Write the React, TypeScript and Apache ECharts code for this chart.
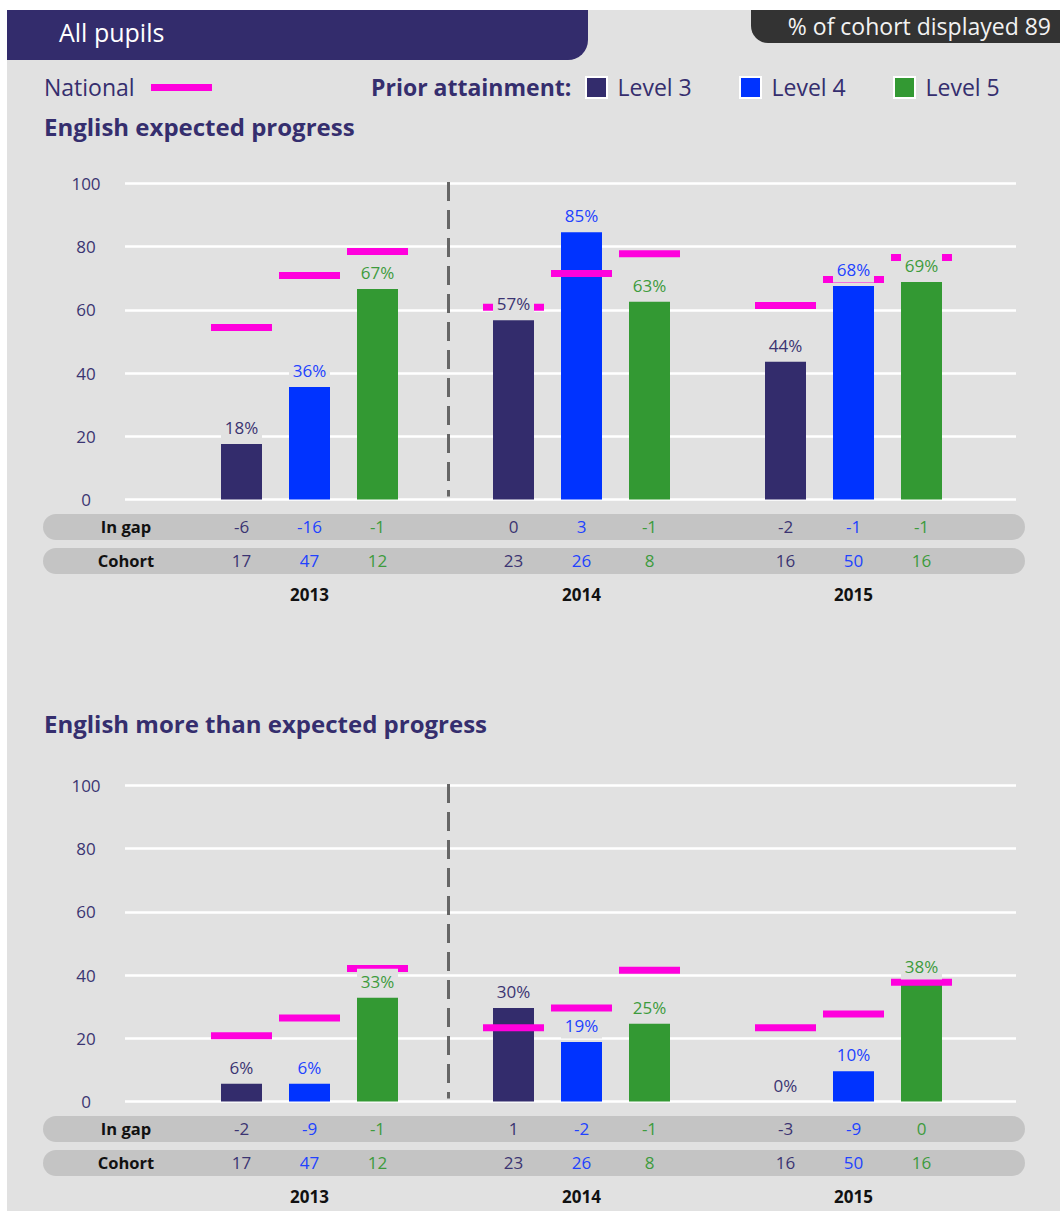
import React, { useEffect, useRef } from "react";
import * as echarts from "echarts";

// ---------- data ----------
const years = ["2013", "2014", "2015"];
const levels = ["Level 3", "Level 4", "Level 5"];

// English expected progress (% of pupils)
const epL3 = [17.6, 56.7, 43.6];
const epL4 = [35.6, 84.6, 67.6];
const epL5 = [66.6, 62.6, 68.8];
const epNatL3 = [54.4, 60.8, 61.4];
const epNatL4 = [70.9, 71.5, 69.6];
const epNatL5 = [78.5, 77.8, 76.6];
const epGapL3 = [-6, 0, -2];
const epGapL4 = [-16, 3, -1];
const epGapL5 = [-1, -1, -1];

// English more than expected progress (% of pupils)
const mepL3 = [5.6, 29.6, 0];
const mepL4 = [5.6, 18.8, 9.6];
const mepL5 = [32.8, 24.6, 37.5];
const mepNatL3 = [20.8, 23.3, 23.3];
const mepNatL4 = [26.4, 29.6, 27.7];
const mepNatL5 = [42.1, 41.5, 37.7];
const mepGapL3 = [-2, 1, -3];
const mepGapL4 = [-9, -2, -9];
const mepGapL5 = [-1, -1, 0];

// cohort sizes (same for both panels)
const cohortL3 = [17, 23, 16];
const cohortL4 = [47, 26, 50];
const cohortL5 = [12, 8, 16];

const yMin = 0;
const yMax = 100;
const yInterval = 20;

// ---------- styling ----------
const FONT = '"Open Sans", "Noto Sans", sans-serif';
const PANEL = "#e1e1e1";
const PILL = "#c4c4c4";
const PURPLE = "#332c6c";
const TEXT_PURPLE = "#352e6e";
const LEVEL_COLORS = ["#332c6c", "#0033ff", "#339933"];
const LABEL_COLORS = ["#3b3472", "#2142ff", "#3d9b3d"];
const MAGENTA = "#ff00dd";

const BAR_W = 41;
const BAR_GAP = 27;
const MARK_W = 61;
const MARK_H = 7;
const LABEL_OFFSET = 16;
const PLOT_LEFT = 125;
const PLOT_W = 891;
const BAND_LEFT = 173.5;
const BAND_W = 816;
const PLOT_H = 316;
const TEXT_DY = -1.5;

const panels = [
  {
    title: "English expected progress",
    titleY: 128,
    top: 183.5,
    bars: [epL3, epL4, epL5],
    nat: [epNatL3, epNatL4, epNatL5],
    gap: [epGapL3, epGapL4, epGapL5],
    cohort: [cohortL3, cohortL4, cohortL5],
  },
  {
    title: "English more than expected progress",
    titleY: 725,
    top: 785.5,
    bars: [mepL3, mepL4, mepL5],
    nat: [mepNatL3, mepNatL4, mepNatL5],
    gap: [mepGapL3, mepGapL4, mepGapL5],
    cohort: [cohortL3, cohortL4, cohortL5],
  },
];

function txt(
  text: string,
  x: number,
  y: number,
  font: string,
  fill: string,
  align: string = "left"
) {
  return {
    type: "text",
    x,
    y: y + TEXT_DY,
    z: 10,
    style: {
      text,
      font,
      fill,
      align,
      textAlign: align,
      verticalAlign: "middle",
      textVerticalAlign: "middle",
    },
  };
}

function buildOption() {
  const grid: any[] = [];
  const xAxis: any[] = [];
  const yAxis: any[] = [];
  const series: any[] = [];
  const graphic: any[] = [];

  // header
  graphic.push({
    type: "rect",
    z: 1,
    shape: { x: 7, y: 10, width: 581, height: 50, r: [0, 0, 20, 0] },
    style: { fill: PURPLE },
  });
  graphic.push(txt("All pupils", 59, 33.5, `25px ${FONT}`, "#ffffff"));
  graphic.push({
    type: "rect",
    z: 1,
    shape: { x: 751, y: 10, width: 309, height: 33, r: [0, 0, 0, 17] },
    style: { fill: "#333333" },
  });
  graphic.push(txt("% of cohort displayed 89", 1051, 27, `23px ${FONT}`, "#f2f2f2", "right"));

  // legend row
  graphic.push(txt("National", 44, 88, `23px ${FONT}`, TEXT_PURPLE));
  graphic.push({
    type: "rect",
    z: 1,
    shape: { x: 151, y: 84, width: 61, height: 7 },
    style: { fill: MAGENTA },
  });
  graphic.push(txt("Prior attainment:", 371, 88, `bold 23px ${FONT}`, TEXT_PURPLE));
  const legendCenters = [596.5, 750.5, 904.5];
  levels.forEach((lv, i) => {
    graphic.push({
      type: "rect",
      z: 1,
      shape: { x: legendCenters[i] - 10.5, y: 77, width: 21, height: 21 },
      style: { fill: LEVEL_COLORS[i], stroke: "#ffffff", lineWidth: 2 },
    });
    graphic.push(txt(lv, legendCenters[i] + 21, 88, `23px ${FONT}`, TEXT_PURPLE));
  });

  panels.forEach((p, i) => {
    const gBg = 2 * i;
    const gBar = 2 * i + 1;
    const bottom = p.top + PLOT_H;

    graphic.push(txt(p.title, 44, p.titleY, `bold 24px ${FONT}`, TEXT_PURPLE));

    // table pills + row titles
    [
      { label: "In gap", y: bottom + 14.5 },
      { label: "Cohort", y: bottom + 48.5 },
    ].forEach((row) => {
      graphic.push({
        type: "rect",
        z: 1,
        shape: { x: 43, y: row.y, width: 982, height: 26, r: 13 },
        style: { fill: PILL },
      });
      graphic.push(txt(row.label, 126, row.y + 13.5, `bold 16.5px ${FONT}`, "#111111", "center"));
    });

    // dashed separator between first two years
    graphic.push({
      type: "line",
      z: 1,
      shape: { x1: 448.5, y1: p.top - 1.5, x2: 448.5, y2: bottom - 3 },
      style: { stroke: "#666666", lineWidth: 3, lineDash: [19, 9] },
    });

    grid.push({ left: PLOT_LEFT, top: p.top, width: PLOT_W, height: PLOT_H });
    grid.push({ left: BAND_LEFT, top: p.top, width: BAND_W, height: PLOT_H });

    xAxis.push({ gridIndex: gBg, type: "value", min: 0, max: 1, show: false });
    xAxis.push({
      gridIndex: gBar,
      type: "category",
      data: years,
      z: 5,
      axisLine: { show: false },
      axisTick: { show: false },
      splitLine: { show: false },
      axisLabel: {
        interval: 0,
        margin: 10,
        formatter: (val: string, idx: number) => {
          const g = p.gap.map((a) => a[idx]);
          const c = p.cohort.map((a) => a[idx]);
          return (
            `{l0|${g[0]}}{l1|${g[1]}}{l2|${g[2]}}\n` +
            `{l0|${c[0]}}{l1|${c[1]}}{l2|${c[2]}}\n` +
            `{yr|${val}}`
          );
        },
        rich: {
          l0: { color: LABEL_COLORS[0], fontSize: 17, fontFamily: FONT, width: BAR_W + BAR_GAP, align: "center", lineHeight: 34 },
          l1: { color: LABEL_COLORS[1], fontSize: 17, fontFamily: FONT, width: BAR_W + BAR_GAP, align: "center", lineHeight: 34 },
          l2: { color: LABEL_COLORS[2], fontSize: 17, fontFamily: FONT, width: BAR_W + BAR_GAP, align: "center", lineHeight: 34 },
          yr: { color: "#111111", fontSize: 17, fontWeight: "bold", fontFamily: FONT, width: 3 * (BAR_W + BAR_GAP), align: "center", lineHeight: 33 },
        },
      },
    });

    yAxis.push({
      gridIndex: gBg,
      type: "value",
      min: yMin,
      max: yMax,
      interval: yInterval,
      axisLine: { show: false },
      axisTick: { show: false },
      splitLine: { show: true, lineStyle: { color: "#ffffff", width: 2.5 } },
      axisLabel: {
        color: "#3b3572",
        fontSize: 17,
        fontFamily: FONT,
        align: "center",
        margin: 39,
      },
    });
    yAxis.push({ gridIndex: gBar, type: "value", min: yMin, max: yMax, show: false });

    levels.forEach((lv, L) => {
      series.push({
        type: "bar",
        name: lv,
        xAxisIndex: gBar,
        yAxisIndex: gBar,
        data: p.bars[L],
        barWidth: BAR_W,
        barGap: `${(BAR_GAP / BAR_W) * 100}%`,
        itemStyle: { color: LEVEL_COLORS[L] },
        z: 2,
        silent: true,
      });
    });

    const customData: number[][] = [];
    years.forEach((_, c) => {
      levels.forEach((__, L) => {
        customData.push([c, p.bars[L][c], p.nat[L][c], L]);
      });
    });

    series.push({
      type: "custom",
      name: "National",
      xAxisIndex: gBar,
      yAxisIndex: gBar,
      z: 3,
      silent: true,
      encode: { x: 0, y: 1 },
      data: customData,
      renderItem: (params: any, api: any) => {
        const cat = api.value(0);
        const v = api.value(1);
        const nat = api.value(2);
        const L = api.value(3);
        const base = api.coord([cat, v]);
        const x = base[0] + (L - 1) * (BAR_W + BAR_GAP);
        const natY = api.coord([cat, nat])[1];
        const ly = base[1] - LABEL_OFFSET;
        return {
          type: "group",
          children: [
            {
              type: "rect",
              shape: { x: x - MARK_W / 2, y: natY - MARK_H / 2, width: MARK_W, height: MARK_H },
              style: { fill: MAGENTA },
            },
            {
              type: "rect",
              shape: { x: x - BAR_W / 2, y: ly - 13, width: BAR_W, height: 25.5 },
              style: { fill: PANEL },
            },
            {
              type: "text",
              x,
              y: ly - 0.5,
              style: {
                text: `${Math.round(v)}%`,
                fill: LABEL_COLORS[L],
                font: `17px ${FONT}`,
                align: "center",
                verticalAlign: "middle",
              },
            },
          ],
        };
      },
    });
  });

  return {
    animation: false,
    backgroundColor: "transparent",
    textStyle: { fontFamily: FONT },
    grid,
    xAxis,
    yAxis,
    series,
    graphic: { elements: graphic },
  };
}

export default function App() {
  const ref = useRef<HTMLDivElement>(null);
  useEffect(() => {
    document.body.style.margin = "0";
    if (!ref.current) return;
    const chart = echarts.init(ref.current, undefined, { renderer: "svg" });
    chart.setOption(buildOption() as any);
    return () => chart.dispose();
  }, []);
  return (
    <div style={{ position: "relative", width: 1060, height: 1211, background: "#ffffff" }}>
      <div
        style={{
          position: "absolute",
          left: 7,
          top: 10,
          width: 1053,
          height: 1201,
          background: PANEL,
        }}
      />
      <div
        ref={ref}
        style={{ position: "absolute", left: 0, top: 0, width: 1060, height: 1211 }}
      />
    </div>
  );
}
